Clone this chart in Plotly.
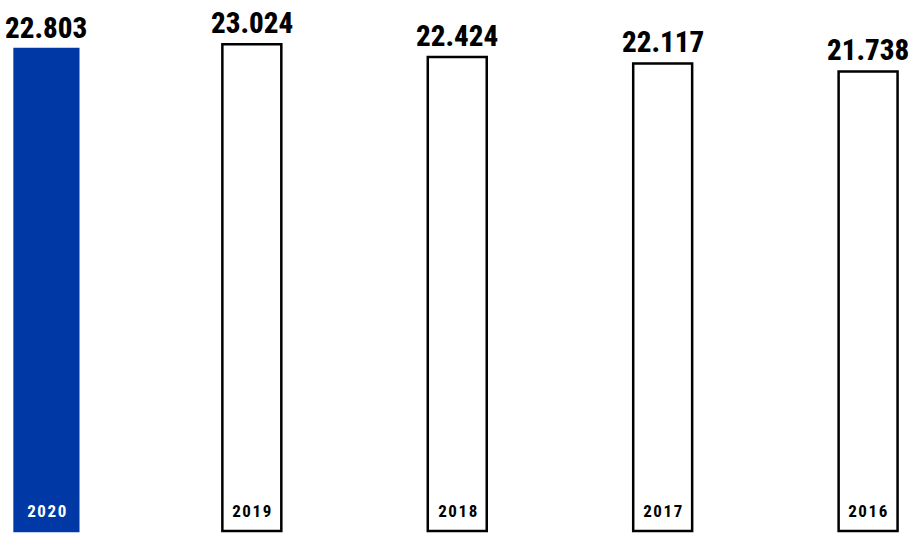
import plotly.graph_objects as go

years = ["2020", "2019", "2018", "2017", "2016"]
values = [22.803, 23.024, 22.424, 22.117, 21.738]
value_labels = ["22.803", "23.024", "22.424", "22.117", "21.738"]

BLUE = "#0039A6"
FONT = "Roboto, Liberation Sans, sans-serif"

x = list(range(len(years)))
fills = [BLUE] + ["white"] * (len(years) - 1)
line_colors = [BLUE] + ["black"] * (len(years) - 1)
widths = [0.31] + [0.287] * (len(years) - 1)

fig = go.Figure()
fig.add_trace(go.Bar(
    x=x, y=values, width=widths,
    marker=dict(color=fills, line=dict(color=line_colors, width=2.5)),
    hoverinfo="skip",
))

for xi, v, lab in zip(x, values, value_labels):
    fig.add_annotation(x=xi, y=v, xref="x", yref="y", text=lab,
                       showarrow=False, yanchor="bottom", yshift=2,
                       font=dict(family=FONT, size=29, color="black", weight=800))

for i, (xi, yr) in enumerate(zip(x, years)):
    fig.add_annotation(x=xi, y=0, xref="x", yref="paper", text=yr,
                       showarrow=False, yanchor="middle", yshift=22.5, xshift=0.8,
                       font=dict(family=FONT, size=17, weight=700,
                                 color="white" if i == 0 else "black"))

fig.update_layout(
    width=910, height=533,
    margin=dict(l=0, r=0, t=0, b=0),
    paper_bgcolor="white", plot_bgcolor="white",
    showlegend=False,
    xaxis=dict(range=[-0.226, 4.204], visible=False, fixedrange=True),
    yaxis=dict(range=[-0.094, 25.12], visible=False, fixedrange=True),
)

post = """
document.body.style.margin = '0';
document.body.style.overflow = 'hidden';
var gd = document.getElementById('{plot_id}');
gd.querySelectorAll('.annotation').forEach(function (g) {
  var idx = parseInt(g.getAttribute('data-index'), 10);
  var t = g.querySelector('.annotation-text');
  if (!t) return;
  t.style.fontStretch = '75%';
  if (idx >= 5) { t.style.letterSpacing = '1.6px'; }
});
"""

fig.write_html("out.html", config={"displayModeBar": False}, post_script=post)
